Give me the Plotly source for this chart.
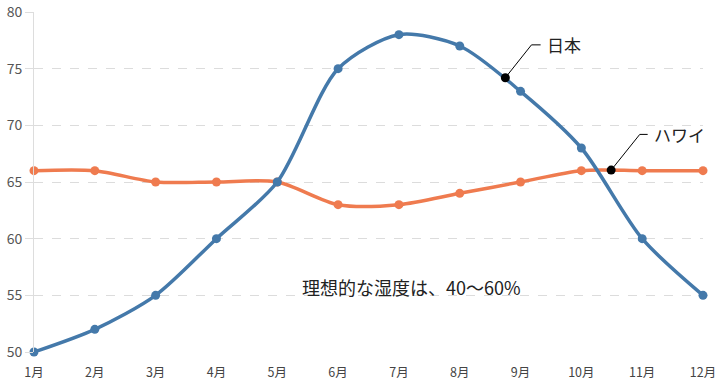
import plotly.graph_objects as go

months = ["1月", "2月", "3月", "4月", "5月", "6月", "7月", "8月", "9月", "10月", "11月", "12月"]
japan = [50, 52, 55, 60, 65, 75, 78, 77, 73, 68, 60, 55]
hawaii = [66, 66, 65, 65, 65, 63, 63, 64, 65, 66, 66, 66]
y_ticks = [50, 55, 60, 65, 70, 75, 80]

# callout anchor points (data units): dot, elbow, end
japan_callout = {"label": "日本", "dot": (8.75, 74.2), "elbow": (9.18, 77.1), "end": (9.33, 77.1)}
hawaii_callout = {"label": "ハワイ", "dot": (10.49, 66.05), "elbow": (10.96, 69.2), "end": (11.09, 69.2)}
center_note = {"text": "理想的な湿度は、40〜60%", "pos": (7.2, 55.7)}

x = list(range(1, len(months) + 1))
FONT = "Noto Sans CJK JP, sans-serif"
BLUE = "#4479aa"
ORANGE = "#ef7b4f"

fig = go.Figure()
fig.add_trace(go.Scatter(x=x, y=hawaii, mode="lines+markers", line=dict(color=ORANGE, width=3.5, shape="spline", smoothing=0.8),
                         marker=dict(size=9, color=ORANGE), showlegend=False, hoverinfo="skip", cliponaxis=False))
fig.add_trace(go.Scatter(x=x, y=japan, mode="lines+markers", line=dict(color=BLUE, width=3.5, shape="spline", smoothing=0.8),
                         marker=dict(size=9, color=BLUE), showlegend=False, hoverinfo="skip", cliponaxis=False))

for c in (japan_callout, hawaii_callout):
    xs = [c["dot"][0], c["elbow"][0], c["end"][0]]
    ys = [c["dot"][1], c["elbow"][1], c["end"][1]]
    fig.add_trace(go.Scatter(x=xs, y=ys, mode="lines", line=dict(color="black", width=1),
                             showlegend=False, hoverinfo="skip"))
    fig.add_trace(go.Scatter(x=[c["dot"][0]], y=[c["dot"][1]], mode="markers",
                             marker=dict(size=9, color="black"), showlegend=False, hoverinfo="skip"))
    fig.add_annotation(x=c["end"][0], y=c["end"][1], text=c["label"], showarrow=False,
                       xanchor="left", yanchor="middle", xshift=4,
                       font=dict(family=FONT, size=17, color="#222"))

fig.add_annotation(x=center_note["pos"][0], y=center_note["pos"][1], text=center_note["text"],
                   showarrow=False, xanchor="center", yanchor="middle",
                   font=dict(family=FONT, size=18, color="#222"))

fig.update_layout(
    width=726, height=387,
    margin=dict(l=34, r=23, t=12, b=35),
    paper_bgcolor="white", plot_bgcolor="white",
    font=dict(family=FONT, color="#555"),
)
fig.update_xaxes(range=[1, 12], tickvals=x, ticktext=months, showgrid=False, zeroline=False,
                 showline=False, ticks="", tickfont=dict(size=12.5, color="#444"), ticklabelstandoff=11,
                 fixedrange=True, automargin=False)
fig.update_yaxes(range=[50, 80], tickvals=y_ticks, showgrid=True, gridcolor="#dcdcdc", griddash="dash",
                 gridwidth=1, zeroline=False, showline=True, linecolor="#dddddd", linewidth=1,
                 ticks="outside", ticklen=8, tickcolor="#dddddd", tickfont=dict(size=14, color="#555"),
                 fixedrange=True, automargin=False)

fig.write_html("out.html", config={"displayModeBar": False},
               post_script="document.body.style.margin='0';document.body.style.overflow='hidden';")
